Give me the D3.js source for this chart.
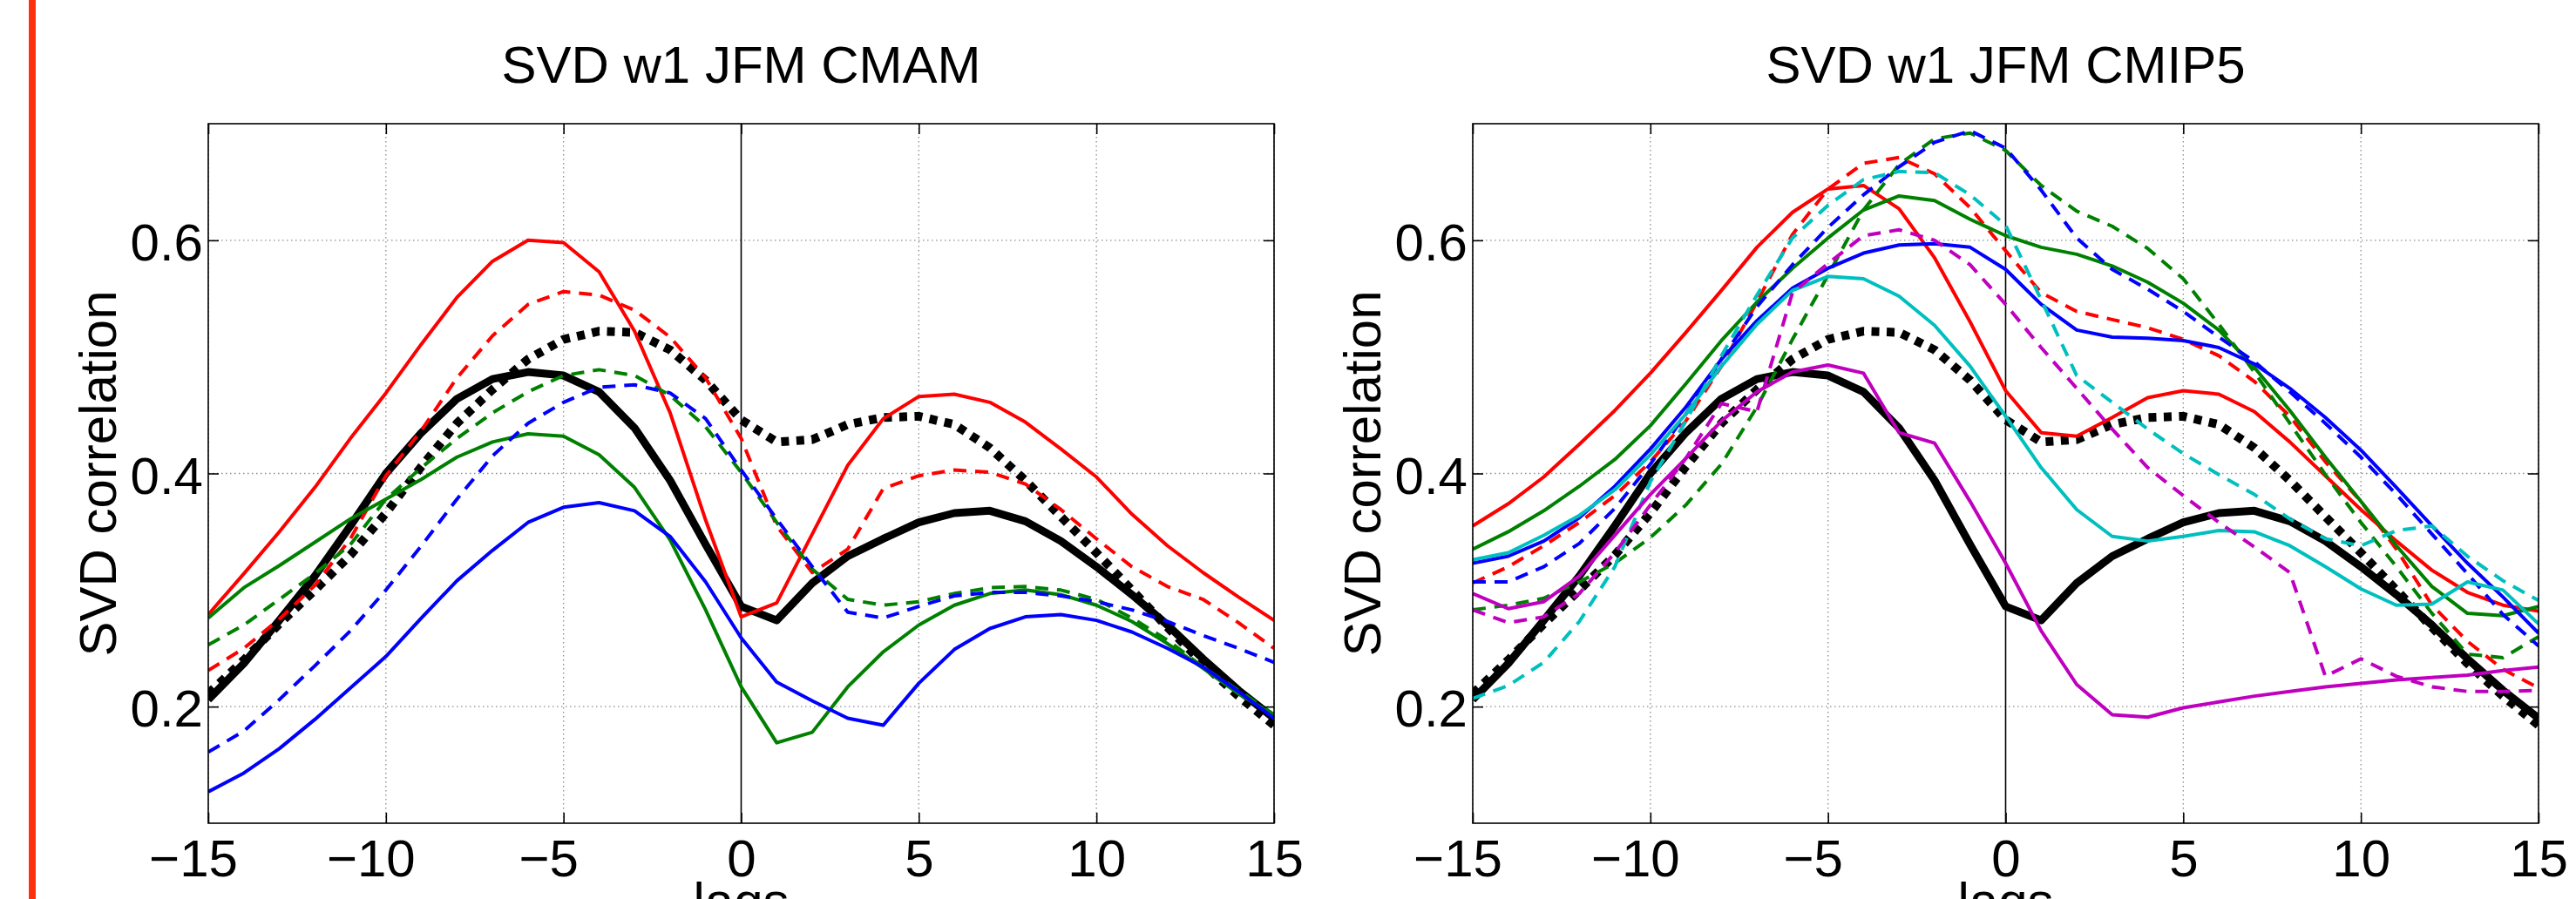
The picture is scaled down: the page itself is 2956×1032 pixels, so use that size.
<!DOCTYPE html>
<html>
<head>
<meta charset="utf-8">
<script src="https://cdn.jsdelivr.net/npm/d3@7"></script>
<style>
  body { margin: 0; background: #fff; }
  svg { display: block; }
  text { font-family: "Liberation Sans", Arial, Helvetica, sans-serif; }
</style>
</head>
<body>
<svg id="chart" width="2956" height="1032"></svg>
<script>
// x values (lags) and tick labels
var lags = [-15, -14, -13, -12, -11, -10, -9, -8, -7, -6, -5, -4, -3, -2, -1,
            0, 1, 2, 3, 4, 5, 6, 7, 8, 9, 10, 11, 12, 13, 14, 15];
var xTicks = [-15, -10, -5, 0, 5, 10, 15];
var yTicks = [0.2, 0.4, 0.6];
var titles = ["SVD w1 JFM CMAM", "SVD w1 JFM CMIP5"];

// black reference curves, shown in both panels
var blackSolid = [0.206, 0.237, 0.274, 0.312, 0.355, 0.400, 0.435, 0.464, 0.481, 0.487, 0.484, 0.470, 0.439, 0.394, 0.339,
                  0.286, 0.274, 0.306, 0.329, 0.344, 0.358, 0.366, 0.368, 0.359, 0.342, 0.320, 0.296, 0.270, 0.241, 0.214, 0.190];
var blackDot   = [0.211, 0.240, 0.271, 0.300, 0.330, 0.366, 0.406, 0.443, 0.472, 0.498, 0.515, 0.522, 0.521, 0.506, 0.480,
                  0.446, 0.427, 0.429, 0.442, 0.448, 0.449, 0.442, 0.422, 0.394, 0.363, 0.332, 0.300, 0.268, 0.237, 0.209, 0.184];

// CMAM panel
var cmamRedSolid   = [0.279, 0.314, 0.350, 0.388, 0.430, 0.469, 0.511, 0.551, 0.582, 0.600, 0.598, 0.573, 0.522, 0.452, 0.360,
                      0.277, 0.289, 0.348, 0.407, 0.447, 0.466, 0.468, 0.461, 0.444, 0.421, 0.397, 0.365, 0.338, 0.315, 0.294, 0.274];
var cmamRedDash    = [0.231, 0.250, 0.275, 0.304, 0.344, 0.398, 0.437, 0.482, 0.518, 0.545, 0.556, 0.553, 0.540, 0.517, 0.482,
                      0.430, 0.355, 0.315, 0.335, 0.387, 0.398, 0.403, 0.401, 0.391, 0.369, 0.344, 0.320, 0.303, 0.292, 0.272, 0.250];
var cmamGreenSolid = [0.276, 0.302, 0.321, 0.341, 0.361, 0.378, 0.395, 0.414, 0.427, 0.434, 0.432, 0.416, 0.388, 0.343, 0.283,
                      0.217, 0.169, 0.178, 0.217, 0.247, 0.270, 0.287, 0.297, 0.300, 0.296, 0.287, 0.273, 0.254, 0.233, 0.211, 0.193];
var cmamGreenDash  = [0.253, 0.270, 0.292, 0.314, 0.339, 0.378, 0.405, 0.430, 0.452, 0.470, 0.484, 0.489, 0.484, 0.467, 0.440,
                      0.401, 0.358, 0.318, 0.292, 0.287, 0.290, 0.297, 0.302, 0.303, 0.300, 0.292, 0.276, 0.257, 0.234, 0.214, 0.193];
var cmamBlueSolid  = [0.127, 0.143, 0.164, 0.189, 0.216, 0.243, 0.276, 0.308, 0.334, 0.358, 0.371, 0.375, 0.368, 0.346, 0.307,
                      0.259, 0.221, 0.205, 0.190, 0.184, 0.220, 0.249, 0.267, 0.277, 0.279, 0.274, 0.264, 0.250, 0.234, 0.213, 0.190];
var cmamBlueDash   = [0.161, 0.179, 0.206, 0.235, 0.265, 0.300, 0.338, 0.378, 0.415, 0.443, 0.461, 0.474, 0.476, 0.469, 0.447,
                      0.403, 0.361, 0.320, 0.281, 0.276, 0.286, 0.295, 0.298, 0.298, 0.295, 0.290, 0.283, 0.273, 0.261, 0.250, 0.238];

// CMIP5 panel
var cmipRedSolid     = [0.355, 0.374, 0.397, 0.425, 0.454, 0.486, 0.521, 0.557, 0.594, 0.624, 0.644, 0.647, 0.627, 0.585, 0.530,
                        0.471, 0.435, 0.432, 0.448, 0.465, 0.471, 0.468, 0.453, 0.427, 0.398, 0.369, 0.342, 0.317, 0.298, 0.287, 0.282];
var cmipRedDash      = [0.306, 0.320, 0.338, 0.358, 0.381, 0.410, 0.445, 0.492, 0.547, 0.605, 0.644, 0.666, 0.671, 0.657, 0.628,
                        0.591, 0.555, 0.539, 0.532, 0.525, 0.515, 0.501, 0.479, 0.449, 0.410, 0.376, 0.335, 0.287, 0.256, 0.232, 0.216];
var cmipGreenSolid   = [0.335, 0.350, 0.368, 0.389, 0.412, 0.441, 0.477, 0.514, 0.547, 0.576, 0.602, 0.626, 0.638, 0.634, 0.618,
                        0.604, 0.594, 0.588, 0.578, 0.564, 0.546, 0.523, 0.491, 0.454, 0.414, 0.376, 0.338, 0.303, 0.280, 0.278, 0.286];
var cmipGreenDash    = [0.283, 0.287, 0.293, 0.307, 0.323, 0.345, 0.373, 0.408, 0.457, 0.515, 0.570, 0.626, 0.665, 0.687, 0.692,
                        0.677, 0.647, 0.625, 0.612, 0.593, 0.567, 0.528, 0.487, 0.443, 0.399, 0.358, 0.320, 0.280, 0.245, 0.242, 0.260];
var cmipBlueSolid    = [0.323, 0.329, 0.342, 0.362, 0.389, 0.421, 0.457, 0.498, 0.531, 0.559, 0.576, 0.589, 0.596, 0.597, 0.594,
                        0.575, 0.545, 0.523, 0.517, 0.516, 0.514, 0.508, 0.494, 0.473, 0.448, 0.420, 0.388, 0.355, 0.323, 0.294, 0.263];
var cmipBlueDash     = [0.307, 0.307, 0.320, 0.340, 0.370, 0.408, 0.451, 0.498, 0.543, 0.579, 0.611, 0.639, 0.663, 0.684, 0.694,
                        0.679, 0.643, 0.602, 0.575, 0.558, 0.539, 0.517, 0.496, 0.470, 0.443, 0.414, 0.382, 0.348, 0.314, 0.279, 0.252];
var cmipCyanSolid    = [0.326, 0.332, 0.347, 0.364, 0.386, 0.416, 0.451, 0.492, 0.528, 0.557, 0.569, 0.567, 0.552, 0.527, 0.492,
                        0.449, 0.405, 0.369, 0.346, 0.342, 0.346, 0.351, 0.350, 0.338, 0.320, 0.301, 0.287, 0.288, 0.307, 0.300, 0.271];
var cmipCyanDash     = [0.207, 0.218, 0.238, 0.273, 0.320, 0.393, 0.445, 0.501, 0.553, 0.602, 0.630, 0.652, 0.659, 0.658, 0.639,
                        0.613, 0.549, 0.484, 0.461, 0.438, 0.417, 0.399, 0.382, 0.361, 0.344, 0.338, 0.351, 0.355, 0.329, 0.308, 0.291];
var cmipMagentaSolid = [0.297, 0.284, 0.290, 0.312, 0.347, 0.382, 0.413, 0.445, 0.470, 0.487, 0.493, 0.486, 0.435, 0.426, 0.376,
                        0.323, 0.265, 0.219, 0.193, 0.191, 0.199, 0.204, 0.209, 0.213, 0.217, 0.220, 0.223, 0.225, 0.227, 0.231, 0.234];
var cmipMagentaDash  = [0.283, 0.272, 0.277, 0.297, 0.332, 0.373, 0.413, 0.460, 0.453, 0.555, 0.580, 0.604, 0.609, 0.600, 0.579,
                        0.545, 0.508, 0.473, 0.438, 0.405, 0.381, 0.358, 0.337, 0.315, 0.226, 0.241, 0.226, 0.217, 0.213, 0.213, 0.214];

// line styles (MATLAB default colours)
var styles = {
    blackSolid: { color: "#000000", width: 9,  dash: null },
    blackDot:   { color: "#000000", width: 10, dash: "9,8.5" },
    red:        { color: "#ff0000", width: 4,  dash: null },
    redDash:    { color: "#ff0000", width: 4,  dash: "15,10" },
    green:      { color: "#008000", width: 4,  dash: null },
    greenDash:  { color: "#008000", width: 4,  dash: "15,10" },
    blue:       { color: "#0000ff", width: 4,  dash: null },
    blueDash:   { color: "#0000ff", width: 4,  dash: "15,10" },
    cyan:       { color: "#00bfbf", width: 4,  dash: null },
    cyanDash:   { color: "#00bfbf", width: 4,  dash: "15,10" },
    magenta:    { color: "#bf00bf", width: 4,  dash: null },
    magentaDash:{ color: "#bf00bf", width: 4,  dash: "15,10" }
};

var panels = [
    { title: titles[0], left: 239, series: [
        [blackSolid, "blackSolid"], [blackDot, "blackDot"],
        [cmamRedSolid, "red"], [cmamRedDash, "redDash"],
        [cmamGreenSolid, "green"], [cmamGreenDash, "greenDash"],
        [cmamBlueSolid, "blue"], [cmamBlueDash, "blueDash"]
    ]},
    { title: titles[1], left: 1690, series: [
        [blackSolid, "blackSolid"], [blackDot, "blackDot"],
        [cmipRedSolid, "red"], [cmipRedDash, "redDash"],
        [cmipGreenSolid, "green"], [cmipGreenDash, "greenDash"],
        [cmipBlueSolid, "blue"], [cmipBlueDash, "blueDash"],
        [cmipCyanSolid, "cyan"], [cmipCyanDash, "cyanDash"],
        [cmipMagentaSolid, "magenta"], [cmipMagentaDash, "magentaDash"]
    ]}
];

// layout
var width = 2956, height = 1032;
var plotTop = 142, plotBottom = 945, plotW = 1223;
var fontSize = 60;

var svg = d3.select("#chart");
svg.append("rect").attr("width", width).attr("height", height).attr("fill", "#fff");

// red bar at the left edge
svg.append("rect")
   .attr("x", 33).attr("y", 0)
   .attr("width", 8).attr("height", height)
   .attr("fill", "#ff3010");

var defs = svg.append("defs");

panels.forEach(drawPanel);

function drawPanel(p, i) {
    var x = d3.scaleLinear().domain([-15, 15]).range([p.left, p.left + plotW]);
    var y = d3.scaleLinear().domain([0.1, 0.7]).range([plotBottom, plotTop]);
    var g = svg.append("g");

    defs.append("clipPath").attr("id", "clip" + i)
        .append("rect")
        .attr("x", x(-15)).attr("y", plotTop)
        .attr("width", plotW).attr("height", plotBottom - plotTop);

    // dotted grid
    var grid = g.append("g")
                .attr("stroke", "#8c8c8c")
                .attr("stroke-width", 1.3)
                .attr("stroke-dasharray", "1.5,3.5");
    grid.selectAll("line.gx")
        .data(xTicks.filter(function(d) { return d !== 0; }))
        .enter().append("line")
        .attr("x1", function(d) { return x(d); }).attr("x2", function(d) { return x(d); })
        .attr("y1", plotTop).attr("y2", plotBottom);
    grid.selectAll("line.gy")
        .data(yTicks)
        .enter().append("line")
        .attr("x1", x(-15)).attr("x2", x(15))
        .attr("y1", function(d) { return y(d); }).attr("y2", function(d) { return y(d); });

    // zero lag line
    g.append("line")
     .attr("x1", x(0)).attr("x2", x(0))
     .attr("y1", plotTop).attr("y2", plotBottom)
     .attr("stroke", "#000").attr("stroke-width", 1.6);

    // curves
    var line = d3.line()
                 .x(function(d, k) { return x(lags[k]); })
                 .y(function(d) { return y(d); });

    g.append("g")
     .attr("clip-path", "url(#clip" + i + ")")
     .selectAll("path")
     .data(p.series)
     .enter().append("path")
     .attr("d", function(s) { return line(s[0]); })
     .attr("fill", "none")
     .attr("stroke", function(s) { return styles[s[1]].color; })
     .attr("stroke-width", function(s) { return styles[s[1]].width; })
     .attr("stroke-dasharray", function(s) { return styles[s[1]].dash; })
     .attr("stroke-linejoin", "round")
     .attr("stroke-linecap", "butt");

    // axes: ticks point inward on all four sides
    var xAxis = g.append("g")
        .attr("transform", "translate(0," + plotBottom + ")")
        .call(d3.axisBottom(x).tickValues(xTicks)
                .tickSizeInner(-12).tickSizeOuter(0).tickPadding(18)
                .tickFormat(function(d) { return Math.abs(d); }));
    var yAxis = g.append("g")
        .attr("transform", "translate(" + x(-15) + ",0)")
        .call(d3.axisLeft(y).tickValues(yTicks)
                .tickSizeInner(-12).tickSizeOuter(0).tickPadding(6)
                .tickFormat(d3.format(".1f")));
    var topAxis = g.append("g")
        .attr("transform", "translate(0," + plotTop + ")")
        .call(d3.axisTop(x).tickValues(xTicks).tickSizeInner(-12).tickSizeOuter(0).tickFormat(""));
    var rightAxis = g.append("g")
        .attr("transform", "translate(" + x(15) + ",0)")
        .call(d3.axisRight(y).tickValues(yTicks).tickSizeInner(-12).tickSizeOuter(0).tickFormat(""));

    [xAxis, yAxis, topAxis, rightAxis].forEach(function(a) {
        a.attr("font-size", fontSize);
        a.select(".domain").remove();
        a.selectAll(".tick line").attr("stroke", "#000").attr("stroke-width", 1.6);
        a.selectAll(".tick text").attr("fill", "#000");
    });
    yAxis.selectAll(".tick text").attr("dy", "0.38em");

    // minus signs hang to the left of the centred digits
    xAxis.selectAll(".tick")
         .filter(function(d) { return d < 0; })
         .each(function() {
             var t = d3.select(this).select("text");
             var w = t.node().getComputedTextLength();
             d3.select(this).append("text")
               .attr("fill", "#000")
               .attr("text-anchor", "end")
               .attr("x", -w / 2)
               .attr("y", t.attr("y"))
               .attr("dy", t.attr("dy"))
               .text("\u2212");
         });

    // box
    g.append("rect")
     .attr("x", x(-15)).attr("y", plotTop)
     .attr("width", plotW).attr("height", plotBottom - plotTop)
     .attr("fill", "none").attr("stroke", "#000").attr("stroke-width", 1.6);

    // title and labels
    g.append("text")
     .attr("x", x(0)).attr("y", 95)
     .attr("text-anchor", "middle").attr("font-size", fontSize)
     .text(p.title);
    g.append("text")
     .attr("x", x(0)).attr("y", 1055)
     .attr("text-anchor", "middle").attr("font-size", fontSize)
     .text("lags");
    g.append("text")
     .attr("transform", "translate(" + (x(-15) - 106) + "," + ((plotTop + plotBottom) / 2) + ") rotate(-90)")
     .attr("text-anchor", "middle").attr("font-size", fontSize)
     .text("SVD correlation");
}
</script>
</body>
</html>
